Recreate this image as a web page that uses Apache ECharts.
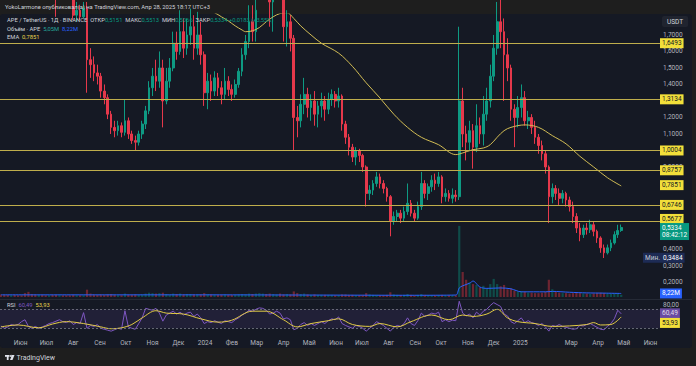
<!DOCTYPE html>
<html><head><meta charset="utf-8">
<script src="https://cdn.jsdelivr.net/npm/echarts@6/dist/echarts.min.js"></script>
<style>html,body{margin:0;padding:0;background:#1e1e1e;}#c{width:696px;height:366px;}</style>
</head><body><div id="c"></div>
<script>
// ---------- DATA ----------
const DAY = 86400000;
const firstCandleUTC = Date.UTC(2023, 4, 9);   // first candle date
const candleStepDays = 4;                       // each candle ~4 days
// [open, close, low, high]
const candles = [
[3.30,3.25,3.18,3.38],[3.25,3.18,3.10,3.30],[3.18,3.10,3.02,3.22],[3.10,3.15,3.05,3.25],[3.15,3.05,2.98,3.20],
[3.05,3.00,2.92,3.10],[3.00,2.95,2.88,3.05],[2.95,2.60,2.45,3.00],[2.60,2.25,2.05,2.65],[2.25,2.15,2.00,2.30],
[2.15,2.05,1.95,2.20],[2.05,2.10,1.98,2.22],[2.10,2.02,1.96,2.15],[2.02,1.98,1.92,2.08],[1.98,2.05,1.93,2.12],
[2.05,2.00,1.90,2.10],[2.00,1.95,1.81,2.05],[1.95,2.02,1.90,2.08],[2.02,1.98,1.92,2.06],[1.98,1.95,1.88,2.02],
[1.95,1.92,1.86,1.98],[1.92,1.82,1.79,1.95],[1.82,1.85,1.78,1.90],[1.85,1.81,1.79,1.88],[1.81,1.86,1.80,1.90],
[1.86,1.55,1.35,1.90],[1.55,1.52,1.44,1.62],[1.52,1.47,1.42,1.57],[1.47,1.45,1.40,1.52],[1.45,1.36,1.32,1.47],
[1.36,1.32,1.28,1.40],[1.32,1.22,1.19,1.34],[1.22,1.14,1.10,1.24],[1.14,1.12,1.08,1.18],[1.12,1.15,1.09,1.18],
[1.15,1.11,1.08,1.17],[1.11,1.18,1.09,1.31],[1.18,1.10,1.07,1.20],[1.10,1.06,1.04,1.12],[1.06,1.05,1.00,1.09],
[1.05,1.10,1.03,1.12],[1.10,1.16,1.07,1.18],[1.16,1.24,1.13,1.27],[1.24,1.38,1.22,1.42],[1.38,1.45,1.33,1.50],
[1.45,1.42,1.36,1.55],[1.42,1.50,1.38,1.60],[1.50,1.30,1.14,1.55],[1.30,1.42,1.28,1.50],[1.42,1.50,1.38,1.56],
[1.50,1.65,1.48,1.72],[1.65,1.60,1.55,1.72],[1.60,1.72,1.58,1.85],[1.72,1.62,1.56,1.80],[1.62,1.70,1.58,1.80],
[1.70,1.75,1.64,1.86],[1.75,1.62,1.55,1.82],[1.62,1.70,1.58,1.84],[1.70,1.58,1.52,1.78],[1.58,1.35,1.27,1.60],
[1.35,1.42,1.25,1.47],[1.42,1.36,1.30,1.46],[1.36,1.44,1.33,1.48],[1.44,1.38,1.33,1.47],[1.38,1.34,1.28,1.42],
[1.34,1.42,1.31,1.50],[1.42,1.37,1.33,1.45],[1.37,1.34,1.30,1.40],[1.34,1.40,1.32,1.43],[1.40,1.48,1.38,1.50],
[1.48,1.58,1.45,1.62],[1.58,1.66,1.55,1.70],[1.66,1.78,1.62,1.88],[1.78,1.72,1.66,1.88],[1.72,1.85,1.66,1.95],
[1.85,1.98,1.84,2.05],[1.98,2.10,1.92,2.20],[2.10,2.02,1.90,2.18],[2.02,1.90,1.75,2.05],[1.90,1.95,1.72,2.00],
[1.95,2.05,1.88,2.12],[2.05,1.98,1.88,2.10],[1.98,1.75,1.66,2.00],[1.75,1.78,1.63,1.85],[1.78,1.68,1.60,1.82],
[1.68,1.20,1.00,1.70],[1.20,1.18,1.08,1.27],[1.18,1.28,1.14,1.34],[1.28,1.34,1.22,1.44],[1.34,1.26,1.20,1.38],
[1.26,1.30,1.18,1.34],[1.30,1.22,1.15,1.36],[1.22,1.27,1.14,1.30],[1.27,1.30,1.20,1.35],[1.30,1.25,1.18,1.33],
[1.25,1.31,1.22,1.35],[1.31,1.34,1.27,1.37],[1.34,1.30,1.26,1.36],[1.30,1.33,1.26,1.38],[1.33,1.16,1.12,1.34],
[1.16,1.08,1.04,1.18],[1.08,1.02,0.97,1.10],[1.02,0.96,0.93,1.04],[0.96,1.00,0.91,1.02],[1.00,0.97,0.93,1.01],
[0.97,0.90,0.87,0.98],[0.90,0.74,0.66,0.91],[0.74,0.76,0.70,0.79],[0.76,0.80,0.73,0.82],[0.80,0.84,0.78,0.87],
[0.84,0.80,0.77,0.86],[0.80,0.77,0.74,0.82],[0.77,0.72,0.69,0.78],[0.72,0.57,0.48,0.73],[0.57,0.60,0.55,0.63],
[0.60,0.62,0.57,0.64],[0.62,0.59,0.56,0.64],[0.59,0.63,0.57,0.66],[0.63,0.68,0.61,0.80],[0.68,0.62,0.60,0.70],
[0.62,0.59,0.57,0.64],[0.59,0.66,0.58,0.69],[0.66,0.80,0.64,0.87],[0.80,0.74,0.71,0.82],[0.74,0.78,0.70,0.80],
[0.78,0.82,0.75,0.85],[0.82,0.80,0.76,0.86],[0.80,0.84,0.78,0.87],[0.84,0.72,0.68,0.85],[0.72,0.74,0.69,0.77],
[0.74,0.71,0.69,0.76],[0.71,0.73,0.68,0.77],[0.73,0.72,0.69,0.76],[0.72,1.30,0.70,1.75],[1.30,1.10,1.02,1.38],
[1.10,1.05,0.94,1.15],[1.05,1.12,1.00,1.18],[1.12,1.02,0.89,1.16],[1.02,1.15,0.99,1.28],[1.15,1.10,1.04,1.20],
[1.10,1.22,1.03,1.33],[1.22,1.30,1.18,1.38],[1.30,1.45,1.26,1.52],[1.45,1.62,1.42,1.70],[1.62,1.78,1.58,1.90],
[1.78,1.72,1.62,1.92],[1.72,1.58,1.30,1.80],[1.58,1.50,1.42,1.68],[1.50,1.25,1.18,1.52],[1.25,1.20,1.02,1.28],
[1.20,1.26,1.14,1.33],[1.26,1.32,1.20,1.40],[1.32,1.18,1.15,1.36],[1.18,1.20,1.13,1.24],[1.20,1.14,1.10,1.22],
[1.14,1.08,1.04,1.18],[1.08,1.03,0.98,1.10],[1.03,0.98,0.94,1.06],[0.98,0.90,0.86,1.00],[0.90,0.72,0.56,0.91],
[0.72,0.77,0.68,0.80],[0.77,0.74,0.70,0.79],[0.74,0.71,0.67,0.77],[0.71,0.74,0.68,0.76],[0.74,0.70,0.66,0.75],
[0.70,0.66,0.63,0.72],[0.66,0.60,0.56,0.69],[0.60,0.53,0.50,0.62],[0.53,0.49,0.45,0.56],[0.49,0.53,0.47,0.55],
[0.53,0.52,0.49,0.56],[0.52,0.55,0.50,0.58],[0.55,0.51,0.48,0.57],[0.51,0.47,0.44,0.52],[0.47,0.41,0.38,0.48],
[0.41,0.38,0.3484,0.43],[0.38,0.41,0.37,0.43],[0.41,0.44,0.39,0.46],[0.44,0.49,0.43,0.51],[0.49,0.5151,0.47,0.55],
[0.5151,0.5334,0.5066,0.5513]
];
const volumes = [
6,5,5,4,5,4,4,9,12,7,6,5,5,4,4,5,5,4,4,4,4,5,4,4,4,
17,
8,6,5,6,5,6,7,5,4,4,8,5,5,6,5,6,8,10,9,8,9,
10,7,6,8,7,8,6,7,7,6,6,6,9,7,6,5,5,5,6,5,5,5,6,7,7,8,7,8,9,8,7,8,7,6,8,6,7,6,13,
9,7,8,6,5,6,5,5,5,5,5,4,4,6,6,5,5,4,4,5,9,6,5,5,4,4,5,11,6,5,4,5,7,5,4,5,7,5,4,4,4,4,5,4,4,4,4,
165,
58,40,34,30,28,22,26,20,30,42,30,25,28,18,20,15,
12,14,12,10,10,9,9,10,12,40,18,12,10,9,9,8,9,10,9,8,8,7,8,9,10,9,8,8,9,8,5.05
];
const rsi = [
35,30,33,38,36,38,44,48,34,30,34,
30,33,36,40,42,45,48,44,42,46,
38,42,40,63,30,36,34,38,30,28,
26,24,27,30,28,67,33,30,28,40,
52,72,70,68,72,62,45,58,62,66,
60,64,58,62,64,55,60,52,40,44,
42,46,43,40,46,44,42,48,52,58,
62,68,66,70,73,72,68,60,62,66,
62,50,52,48,27,30,38,42,36,40,
36,40,44,40,46,50,48,54,40,36,
33,30,36,34,30,24,30,36,44,40,
36,30,24,32,36,34,40,52,40,36,
46,62,55,58,62,60,64,44,48,44,
47,46,87,62,56,60,52,64,58,66,
70,78,84,80,76,60,56,44,40,46,
52,42,46,42,40,36,40,33,24,36,
34,38,34,32,30,28,29,36,35,38,
40,36,32,28,27,34,40,50,68,60.49
];
// sparse readings [candle index] -> value
const emaIdx  = [57,60,62,64,66,68,70,71,73,75,77,79,81,83,85,87,90,93,98,102,106,110,114,118,122,127,132,134,137,140,142,144,146,148,152,156,160,164,168,172,176,180];
const emaVals = [1.87,1.85,1.835,1.81,1.785,1.755,1.73,1.72,1.725,1.745,1.78,1.81,1.83,1.835,1.80,1.755,1.70,1.65,1.59,1.51,1.41,1.318,1.22,1.14,1.08,1.035,0.975,0.985,1.005,1.015,1.035,1.08,1.12,1.14,1.155,1.14,1.09,1.04,0.965,0.90,0.835,0.7851];
const volMaIdx  = [0,30,60,90,120,132,133,134,136,137,139,141,145,148,151,158,160,165,170,175,180];
const volMaVals = [5,5,5,4.5,4,4.5,21,26,32,37,23,20,21,19,12,12,13,11,9.5,9,8.22];
const rsiMaIdx  = [0,5,11,15,19,24,29,32,35,38,41,45,48,53,58,63,67,73,77,82,86,90,95,98,102,107,110,115,119,125,130,134,137,141,144,147,150,155,160,165,170,172,174,177,180];
const rsiMaVals = [33,37,31,39,44,40,33,29,31,38,52,67,62,60,50,43,47,66,66,48,33,40,46,50,38,34,40,33,44,58,48,58,55,60,70,52,44,40,34,35,38,42,37,38,53.93];
const levels = [1.6493, 1.3134, 1.0004, 0.8757, 0.6746, 0.5677];
const lastClose = 0.5334, countdown = '08:42:12', minPrice = 0.3484;
const hiddenPriceTicks = [1.8, 1.3, 1.0, 0.8, 0.7, 0.6, 0.5]; // covered by labels in the reference
const monthTickDates = [[2023,5],[2023,6],[2023,7],[2023,8],[2023,9],[2023,10],[2023,11],[2024,0],[2024,1],[2024,2],[2024,3],[2024,4],[2024,5],[2024,6],[2024,7],[2024,8],[2024,9],[2024,10],[2024,11],[2025,0],[2025,2],[2025,3],[2025,4],[2025,5]];
const monthTickLabels = ['Июн','Июл','Авг','Сен','Окт','Ноя','Дек','2024','Фев','Мар','Апр','Май','Июн','Июл','Авг','Сен','Окт','Ноя','Дек','2025','Мар','Апр','Май','Июн'];
const titleText = 'YokoLarmone опубликовал(а) на TradingView.com, Апр 28, 2025 18:17 UTC+3';

// ---------- BUILD ----------
const FONT = 'Roboto, "Noto Sans", sans-serif';
const FS = 6.5, FSL = 5.8;
const UP = '#0e9a83', DOWN = '#e5384b', LEVEL = '#bfae4c', YEL = '#f2df3a';
const NONE = {color: 'rgba(0,0,0,0)'};
const times = candles.map((_, i) => firstCandleUTC + i * candleStepDays * DAY);
const xMin = Date.UTC(2023, 4, 8), xMax = Date.UTC(2025, 5, 12);
const tickTimes = monthTickDates.map(d => Date.UTC(d[0], d[1], 1));
const tickLabel = {}; tickTimes.forEach((t, i) => tickLabel[t] = monthTickLabels[i]);
const fmt4 = v => v.toFixed(4).replace('.', ',');
const fmt2 = v => v.toFixed(2).replace('.', ',');
const boxLabel = (bg, fg) => ({show: true, position: 'end', distance: 0, backgroundColor: bg, color: fg,
  padding: [1.5, 2], fontSize: FS, fontFamily: FONT, lineHeight: 7});

const chart = echarts.init(document.getElementById('c'), null, {renderer: 'svg'});
const xBase = (gi, showLabels) => ({
  type: 'value', gridIndex: gi, min: xMin, max: xMax,
  axisLine: {show: false}, axisTick: {show: false}, splitLine: {show: false},
  axisLabel: showLabels ? {show: true, customValues: tickTimes, color: '#b2b5be', fontSize: FS, fontFamily: FONT, margin: 1.5,
    formatter: v => tickLabel[v] || ''} : {show: false}
});

chart.setOption({
  animation: false,
  backgroundColor: '#1e1e1e',
  grid: [
    {left: 0, top: 14, width: 660, height: 285},
    {left: 0, top: 197, width: 660, height: 100},
    {left: 0, top: 299.8, width: 660, height: 38}
  ],
  xAxis: [xBase(0, false), xBase(1, false), xBase(2, true)],
  yAxis: [
    {type: 'value', gridIndex: 0, position: 'right', min: 0.1, max: 1.827, interval: 0.1,
     axisLine: {show: false}, axisTick: {show: false}, splitLine: {show: false},
     axisLabel: {color: '#b2b5be', fontSize: FS, fontFamily: FONT, margin: 3, showMinLabel: false, showMaxLabel: false,
       formatter: v => hiddenPriceTicks.some(h => Math.abs(h - v) < 1e-6) ? '' : fmt4(v)}},
    {type: 'value', gridIndex: 1, min: 0, max: 232, show: false},
    {type: 'value', gridIndex: 2, position: 'right', min: 10, max: 90, interval: 10,
     axisLine: {show: false}, axisTick: {show: false}, splitLine: {show: false},
     axisLabel: {color: '#b2b5be', fontSize: FS, fontFamily: FONT, margin: 3, formatter: v => Math.round(v) === 80 ? '80,00' : ''}}
  ],
  series: [
    {type: 'candlestick', xAxisIndex: 0, yAxisIndex: 0, barWidth: 2.2, clip: true,
     data: candles.map((c, i) => [times[i], c[0], c[1], c[2], c[3]]),
     itemStyle: {color: UP, color0: DOWN, borderColor: UP, borderColor0: DOWN, borderWidth: 1},
     markLine: {symbol: 'none', silent: true, animation: false,
       lineStyle: {color: LEVEL, width: 1, type: 'solid'},
       label: boxLabel(YEL, '#131722'),
       data: levels.map(v => ({yAxis: v, label: {formatter: fmt4(v), offset: v === 0.5677 ? [0, -2.5] : [0, 0]}})).concat([
         {yAxis: lastClose, lineStyle: NONE,
          label: Object.assign(boxLabel('#089981', '#ffffff'), {formatter: fmt4(lastClose) + '\n' + countdown, offset: [0, 3.5]})},
         {yAxis: minPrice, lineStyle: NONE,
          label: Object.assign(boxLabel('#1d2b55', '#ffffff'), {formatter: '{a|Мин.}{b|' + fmt4(minPrice) + '}', offset: [-17, 0],
            rich: {a: {width: 18, color: '#c9cbd4', fontSize: FS, fontFamily: FONT}, b: {color: '#ffffff', fontSize: FS, fontFamily: FONT}}})}
       ])}
    },
    {type: 'line', xAxisIndex: 0, yAxisIndex: 0, symbol: 'none', smooth: 0.35, clip: true,
     data: emaIdx.map((i, k) => [times[i], emaVals[k]]),
     lineStyle: {color: '#d2bd55', width: 1},
     markLine: {symbol: 'none', silent: true, animation: false, lineStyle: NONE,
       label: boxLabel(YEL, '#131722'),
       data: [{yAxis: emaVals[emaVals.length - 1], label: {formatter: fmt4(emaVals[emaVals.length - 1])}}]}
    },
    {type: 'bar', xAxisIndex: 1, yAxisIndex: 1, barWidth: 2.2,
     data: volumes.map((v, i) => ({value: [times[i], v],
       itemStyle: {color: candles[i][1] >= candles[i][0] ? 'rgba(8,153,129,0.4)' : 'rgba(242,54,69,0.4)'}}))
    },
    {type: 'line', xAxisIndex: 1, yAxisIndex: 1, symbol: 'none', smooth: 0.3,
     data: volMaIdx.map((i, k) => [times[i], volMaVals[k]]),
     lineStyle: {color: '#2962ff', width: 1},
     markLine: {symbol: 'none', silent: true, animation: false, lineStyle: NONE,
       label: boxLabel('#2962ff', '#ffffff'),
       data: [{yAxis: volMaVals[volMaVals.length - 1], label: {formatter: '8,22M'}}]}
    },
    {type: 'line', xAxisIndex: 2, yAxisIndex: 2, symbol: 'none',
     data: rsi.map((v, i) => [times[i], v]),
     lineStyle: {color: '#7e57c2', width: 1},
     markArea: {silent: true, itemStyle: {color: 'rgba(126,87,194,0.12)'}, data: [[{yAxis: 30}, {yAxis: 70}]]},
     markLine: {symbol: 'none', silent: true, animation: false,
       lineStyle: {color: '#787b86', width: 1, type: [2, 2], opacity: 0.8},
       label: {show: false},
       data: [{yAxis: 70}, {yAxis: 30},
         {yAxis: rsi[rsi.length - 1], lineStyle: NONE,
          label: Object.assign(boxLabel('#7e57c2', '#ffffff'), {formatter: fmt2(rsi[rsi.length - 1]), offset: [0, -0.5]})}]}
    },
    {type: 'line', xAxisIndex: 2, yAxisIndex: 2, symbol: 'none', smooth: 0.35,
     data: rsiMaIdx.map((i, k) => [times[i], rsiMaVals[k]]),
     lineStyle: {color: '#e3cc45', width: 1},
     markLine: {symbol: 'none', silent: true, animation: false, lineStyle: NONE,
       label: boxLabel(YEL, '#131722'),
       data: [{yAxis: rsiMaVals[rsiMaVals.length - 1], label: {formatter: fmt2(rsiMaVals[rsiMaVals.length - 1]), offset: [0, 6]}}]}
    }
  ],
  graphic: [
    {type: 'rect', z: -10, shape: {x: 0, y: 14, width: 692, height: 334, r: 3}, style: {fill: '#151924'}},
    {type: 'line', z: 5, shape: {x1: 0, y1: 299.5, x2: 692, y2: 299.5}, style: {stroke: '#252a36', lineWidth: 1}},
    {type: 'text', z: 50, x: 5, y: 7, style: {text: titleText, fill: '#d1d4dc', fontSize: FSL, fontFamily: FONT, verticalAlign: 'middle'}},
    {type: 'text', z: 50, x: 7, y: 20, style: {
      text: '{t|APE / TetherUS · 1Д · BINANCE}  {t|ОТКР}{g|0,5151}  {t|МАКС}{g|0,5513}  {t|МИН}{g|0,5066}  {t|ЗАКР}{g|0,5334} {g|+0,0183 (+3,55%)}',
      verticalAlign: 'middle', fontSize: FSL, fontFamily: FONT,
      rich: {t: {fill: '#d1d4dc', fontSize: FSL, fontFamily: FONT}, g: {fill: '#089981', fontSize: FSL, fontFamily: FONT}}}},
    {type: 'text', z: 50, x: 7, y: 28.5, style: {
      text: '{t|Объём · APE}  {g|5,05M}  {b|8,22M}', verticalAlign: 'middle', fontSize: FSL, fontFamily: FONT,
      rich: {t: {fill: '#d1d4dc', fontSize: FSL, fontFamily: FONT}, g: {fill: '#26a69a', fontSize: FSL, fontFamily: FONT}, b: {fill: '#2962ff', fontSize: FSL, fontFamily: FONT}}}},
    {type: 'text', z: 50, x: 7, y: 37, style: {
      text: '{t|EMA}  {y|0,7851}', verticalAlign: 'middle', fontSize: FSL, fontFamily: FONT,
      rich: {t: {fill: '#d1d4dc', fontSize: FSL, fontFamily: FONT}, y: {fill: '#e8d44d', fontSize: FSL, fontFamily: FONT}}}},
    {type: 'text', z: 50, x: 7, y: 304.5, style: {
      text: '{t|RSI}  {p|60,49}  {y|53,93}', verticalAlign: 'middle', fontSize: FSL, fontFamily: FONT,
      rich: {t: {fill: '#d1d4dc', fontSize: FSL, fontFamily: FONT}, p: {fill: '#7e57c2', fontSize: FSL, fontFamily: FONT}, y: {fill: '#e8d44d', fontSize: FSL, fontFamily: FONT}}}},
    {type: 'text', z: 100, x: 662, y: 16, style: {text: 'USDT', fill: '#d1d4dc', fontSize: FS, fontFamily: FONT,
      backgroundColor: '#20242f', padding: [2, 5], borderRadius: 2}},
    {type: 'group', z: 50, children: [
      {type: 'rect', shape: {x: 5, y: 355, width: 4.5, height: 1.8}, style: {fill: '#e0e3eb'}},
      {type: 'rect', shape: {x: 6.8, y: 355, width: 1.8, height: 5}, style: {fill: '#e0e3eb'}},
      {type: 'circle', shape: {cx: 10.8, cy: 356, r: 1}, style: {fill: '#e0e3eb'}},
      {type: 'polygon', shape: {points: [[12, 355], [14.5, 355], [12.5, 360], [10, 360]]}, style: {fill: '#e0e3eb'}}
    ]},
    {type: 'text', z: 50, x: 16.5, y: 357.8, style: {text: 'TradingView', fill: '#d1d4dc', fontSize: 7, fontFamily: FONT, verticalAlign: 'middle'}}
  ]
});
</script></body></html>
